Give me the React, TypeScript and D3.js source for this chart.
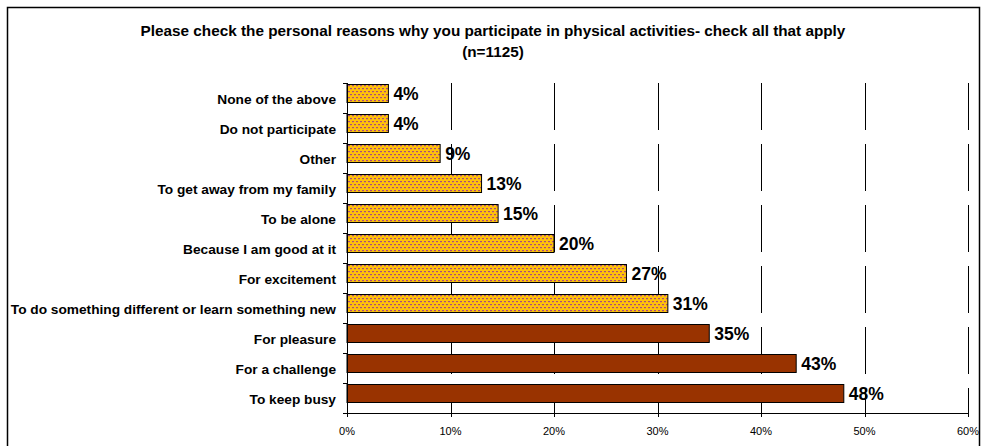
import React from "react";
import * as d3 from "d3";

const categories = [
  "None of the above",
  "Do not participate",
  "Other",
  "To get away from my family",
  "To be alone",
  "Because I am good at it",
  "For excitement",
  "To do something different or learn something new",
  "For pleasure",
  "For a challenge",
  "To keep busy",
];
const values = [4, 4, 9, 13, 14.6, 20, 27, 31, 35, 43.4, 48];
const labels = ["4%", "4%", "9%", "13%", "15%", "20%", "27%", "31%", "35%", "43%", "48%"];
const highlighted = [false, false, false, false, false, false, false, false, true, true, true];
const xTicks = [0, 10, 20, 30, 40, 50, 60];
const titleLines = [
  "Please check the personal reasons why you participate in physical activities- check all that apply",
  "(n=1125)",
];

const W = 983;
const H = 446;
const left = 347;
const right = 968;
const top = 83;
const bottom = 413;
const FONT = "'Liberation Sans', Arial, sans-serif";

export default function App() {
  const x = d3.scaleLinear().domain([0, 60]).range([left, right]);
  const y = d3.scaleBand().domain(categories).range([top, bottom]);
  const bw = y.bandwidth();
  const barH = 18;

  return (
    <svg
      width={W}
      height={H}
      style={{ position: "absolute", left: 0, top: 0, background: "#fff" }}
    >
      <defs>
        <pattern id="dots" width={4} height={6} patternUnits="userSpaceOnUse">
          <rect width={4} height={6} fill="#FFC20A" />
          <rect x={0} y={1} width={2} height={1.2} fill="#A84C7E" />
          <rect x={2} y={4} width={2} height={1.2} fill="#A84C7E" />
        </pattern>
      </defs>
      <rect x={7.5} y={7.5} width={972} height={470} fill="#fff" stroke="#000" strokeWidth={1.5} />
      {titleLines.map((t, i) => (
        <text
          key={i}
          x={493}
          y={36 + i * 21}
          textAnchor="middle"
          fontFamily={FONT}
          fontWeight="bold"
          fontSize={15.3}
          fill="#000"
        >
          {t}
        </text>
      ))}
      {/* gridlines */}
      {xTicks.slice(1).map((t) => (
        <line
          key={"g" + t}
          x1={Math.round(x(t)) + 0.5}
          x2={Math.round(x(t)) + 0.5}
          y1={top}
          y2={bottom}
          stroke="#000"
          strokeWidth={1}
          strokeDasharray="47,14"
        />
      ))}
      {/* bars */}
      {categories.map((c, i) => (
        <rect
          key={"b" + c}
          x={x(0)}
          y={(y(c) as number) + 1.5}
          width={x(values[i]) - x(0)}
          height={barH}
          fill={highlighted[i] ? "#993300" : "url(#dots)"}
          stroke="#000"
          strokeWidth={1}
        />
      ))}
      {/* value labels */}
      {categories.map((c, i) => (
        <text
          key={"v" + c}
          x={x(values[i]) + 5}
          y={(y(c) as number) + 1.5 + barH / 2}
          dy="0.36em"
          fontFamily={FONT}
          fontWeight="bold"
          fontSize={17.5}
          fill="#000"
        >
          {labels[i]}
        </text>
      ))}
      {/* y axis */}
      <line x1={left + 0.5} x2={left + 0.5} y1={top} y2={bottom} stroke="#000" />
      {categories.concat([""]).map((c, i) => (
        <line
          key={"yt" + i}
          x1={left - 4}
          x2={left}
          y1={Math.round(top + i * bw) + 0.5}
          y2={Math.round(top + i * bw) + 0.5}
          stroke="#000"
        />
      ))}
      {categories.map((c) => (
        <text
          key={"yl" + c}
          x={336}
          y={(y(c) as number) + bw / 2 + 1.5}
          dy="0.35em"
          textAnchor="end"
          fontFamily={FONT}
          fontWeight="bold"
          fontSize={13.7}
          fill="#000"
        >
          {c}
        </text>
      ))}
      {/* x axis */}
      <line x1={left} x2={right} y1={bottom + 0.5} y2={bottom + 0.5} stroke="#000" />
      {xTicks.map((t) => (
        <g key={"xt" + t}>
          <line
            x1={Math.round(x(t)) + 0.5}
            x2={Math.round(x(t)) + 0.5}
            y1={bottom}
            y2={bottom + 4}
            stroke="#000"
          />
          <text
            x={x(t)}
            y={435}
            textAnchor="middle"
            fontFamily={FONT}
            fontSize={11}
            fill="#000"
          >
            {t + "%"}
          </text>
        </g>
      ))}
    </svg>
  );
}
